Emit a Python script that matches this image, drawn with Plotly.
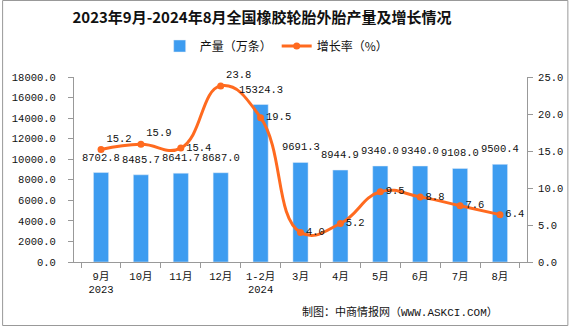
import plotly.graph_objects as go

categories = ["9月<br>2023", "10月", "11月", "12月", "1-2月<br>2024", "3月", "4月", "5月", "6月", "7月", "8月"]
production = [8702.8, 8485.7, 8641.7, 8687.0, 15324.3, 9691.3, 8944.9, 9340.0, 9340.0, 9108.0, 9500.4]
growth = [15.2, 15.9, 15.4, 23.8, 19.5, 4.0, 5.2, 9.5, 8.8, 7.6, 6.4]
growth_label_pos = ["top right", "top right", "middle right", "top right", "middle right", "middle right",
                    "middle right", "middle right", "middle right", "middle right", "middle right"]

W, H = 575, 326
L, R, T, B = 73, 42, 77, 64
pw, ph = W - L - R, H - T - B

FONT = "Liberation Mono, 'Noto Sans CJK SC', monospace"
BAR_C = "#3D9CF0"
LINE_C = "#FF6A1F"

fig = go.Figure()
fig.add_trace(go.Bar(
    x=categories, y=production, name="产量（万条）",
    marker_color=BAR_C, width=0.38, yaxis="y",
))
fig.add_trace(go.Scatter(
    x=categories, y=growth, name="增长率（%）", mode="lines+markers+text",
    line=dict(color=LINE_C, width=3, shape="spline", smoothing=1.3),
    marker=dict(color=LINE_C, size=7),
    text=[f"{v:.1f}" for v in growth], textposition=growth_label_pos,
    textfont=dict(family=FONT, size=10.5, color="#111"), cliponaxis=False,
    yaxis="y2",
))

for c, v in zip(categories, production):
    fig.add_annotation(x=c, y=v, xref="x", yref="y", text=f"{v:.1f}", showarrow=False,
                       yanchor="bottom", yshift=7,
                       font=dict(family=FONT, size=10.5, color="#111"))

fig.update_layout(
    width=W, height=H, margin=dict(l=L, r=R, t=T, b=B),
    paper_bgcolor="white", plot_bgcolor="white",
    font=dict(family=FONT, size=10.5, color="#111"),
    title=dict(text="<b>2023年9月-2024年8月全国橡胶轮胎外胎产量及增长情况</b>",
               x=262 / W, xanchor="center", xref="container",
               y=1 - 18 / H, yanchor="middle", yref="container",
               font=dict(family="'Noto Sans CJK SC', sans-serif", size=15, color="#111")),
    showlegend=True,
    legend=dict(orientation="h", x=(160 - L) / pw, xanchor="left",
                y=(H - B - 46) / ph, yanchor="middle",
                font=dict(family="'Noto Sans CJK SC', sans-serif", size=12, color="#111"),
                bgcolor="rgba(0,0,0,0)", itemwidth=30, tracegroupgap=0),
    bargap=0.62,
    xaxis=dict(type="category", showline=True, linecolor="#999", linewidth=1,
               ticks="outside", tickson="boundaries", ticklen=5, tickcolor="#999",
               ticklabelstandoff=4,
               showgrid=False, tickfont=dict(family=FONT, size=10.5)),
    yaxis=dict(range=[0, 18000], dtick=2000, tickformat=".1f", showline=True,
               linecolor="#999", ticks="outside", ticklen=5, tickcolor="#999",
               ticklabelstandoff=10,
               showgrid=False, zeroline=False, tickfont=dict(family=FONT, size=10.5)),
    yaxis2=dict(range=[0, 25], dtick=5, tickformat=".1f", overlaying="y", side="right",
                showline=True, linecolor="#999", ticks="outside", ticklen=5, tickcolor="#999",
                ticklabelstandoff=3,
                showgrid=False, zeroline=False, tickfont=dict(family=FONT, size=10.5)),
)

fig.add_annotation(text="制图：中商情报网（WWW.ASKCI.COM）", xref="paper", yref="paper",
                   x=(506 - L) / pw, xanchor="right", y=(H - B - 312) / ph, yanchor="middle",
                   showarrow=False, font=dict(family=FONT, size=11, color="#111"))

fig.add_shape(type="rect", xref="paper", yref="paper",
              x0=(0.5 - L) / pw, x1=(W - 0.5 - L) / pw,
              y0=(H - B - (H - 0.5)) / ph, y1=(H - B - 0.5) / ph,
              line=dict(color="#999", width=1), fillcolor="rgba(0,0,0,0)", layer="below")

fig.write_html("out.html")
